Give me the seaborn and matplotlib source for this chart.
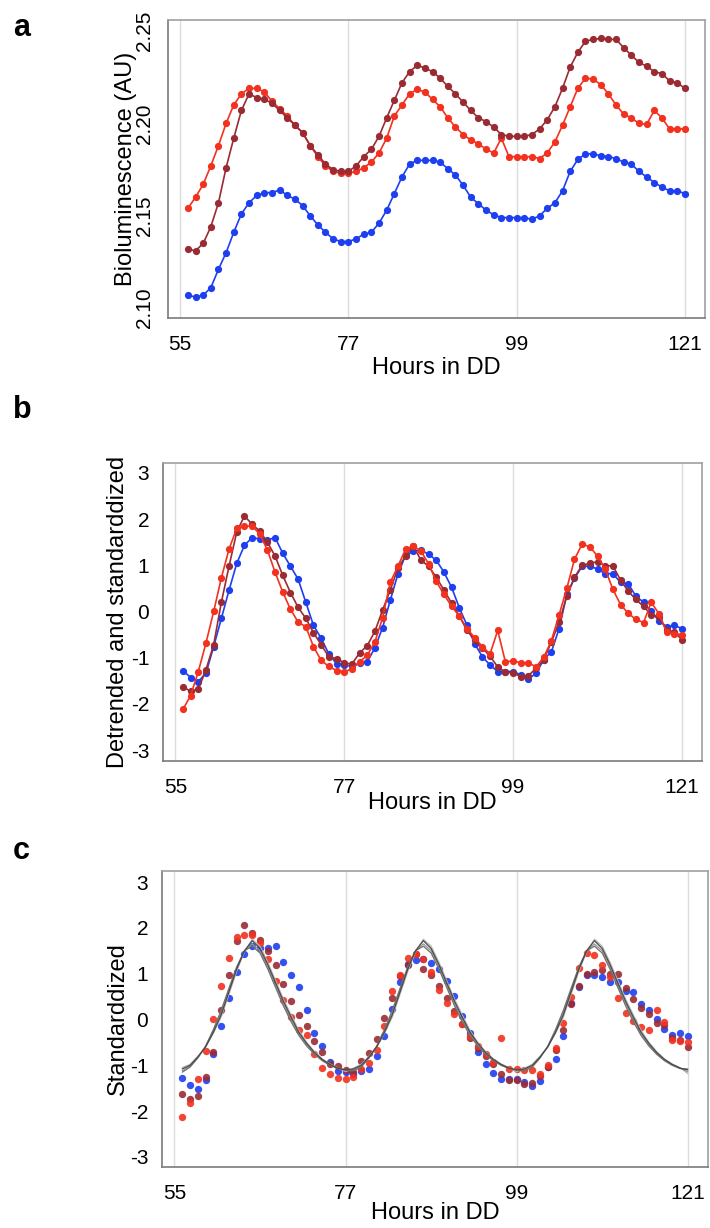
import matplotlib
matplotlib.use("Agg")
import matplotlib.pyplot as plt
import seaborn as sns

# Hours in constant darkness (one sample per hour)
hours = list(range(56, 122))

# Panel a: raw bioluminescence (AU)
red_a = [2.154, 2.160, 2.167, 2.177, 2.188, 2.200, 2.210, 2.216, 2.219, 2.219, 2.217,
         2.212, 2.208, 2.204, 2.199, 2.195, 2.188, 2.182, 2.177, 2.174, 2.173, 2.173,
         2.174, 2.176, 2.179, 2.184, 2.192, 2.204, 2.210, 2.216, 2.2185, 2.217, 2.213,
         2.209, 2.203, 2.198, 2.194, 2.191, 2.189, 2.186, 2.184, 2.192, 2.182, 2.182,
         2.182, 2.182, 2.181, 2.184, 2.190, 2.199, 2.209, 2.219, 2.2245, 2.224, 2.221,
         2.216, 2.210, 2.205, 2.203, 2.200, 2.1995, 2.207, 2.203, 2.197, 2.197, 2.197]
dark_a = [2.132, 2.131, 2.135, 2.144, 2.157, 2.176, 2.192, 2.207, 2.216, 2.214, 2.213,
          2.211, 2.207, 2.203, 2.199, 2.195, 2.188, 2.183, 2.178, 2.175, 2.174, 2.174,
          2.177, 2.182, 2.186, 2.193, 2.203, 2.2125, 2.222, 2.228, 2.2315, 2.230, 2.228,
          2.2245, 2.220, 2.216, 2.2115, 2.207, 2.203, 2.201, 2.198, 2.194, 2.193, 2.193,
          2.193, 2.194, 2.197, 2.202, 2.209, 2.219, 2.2305, 2.2385, 2.2445, 2.2455, 2.246,
          2.2455, 2.2455, 2.241, 2.237, 2.233, 2.231, 2.228, 2.227, 2.223, 2.222, 2.219]
blue_a = [2.107, 2.106, 2.107, 2.111, 2.121, 2.130, 2.141, 2.151, 2.157, 2.161, 2.1625,
          2.1625, 2.164, 2.161, 2.159, 2.1555, 2.150, 2.145, 2.141, 2.1375, 2.136, 2.136,
          2.1375, 2.140, 2.141, 2.146, 2.153, 2.162, 2.171, 2.178, 2.180, 2.180, 2.180,
          2.179, 2.1755, 2.172, 2.1665, 2.160, 2.1565, 2.153, 2.1505, 2.149, 2.149, 2.149,
          2.149, 2.148, 2.150, 2.154, 2.157, 2.1635, 2.174, 2.1805, 2.1835, 2.1835, 2.1825,
          2.182, 2.181, 2.179, 2.178, 2.174, 2.171, 2.168, 2.1655, 2.1635, 2.1635, 2.162]

# Panel b / c: detrended and standardized
red_b = [-2.12, -1.82, -1.30, -0.68, 0.00, 0.73, 1.35, 1.80, 1.85, 1.85, 1.68,
         1.33, 0.85, 0.42, 0.05, -0.23, -0.33, -0.76, -1.06, -1.19, -1.28, -1.30,
         -1.25, -1.09, -0.95, -0.66, -0.14, 0.63, 0.98, 1.35, 1.42, 1.31, 1.03,
         0.65, 0.37, 0.11, -0.10, -0.37, -0.57, -0.76, -0.92, -0.41, -1.09, -1.07,
         -1.11, -1.11, -1.20, -0.99, -0.63, -0.07, 0.50, 1.13, 1.46, 1.40, 1.20,
         0.92, 0.48, 0.15, -0.04, -0.17, -0.24, 0.20, -0.05, -0.44, -0.48, -0.50]
dark_b = [-1.63, -1.73, -1.68, -1.26, -0.72, 0.20, 0.98, 1.72, 2.07, 1.89, 1.74,
          1.50, 1.20, 0.78, 0.41, 0.09, -0.15, -0.46, -0.72, -0.98, -1.02, -1.11,
          -1.14, -0.90, -0.74, -0.43, 0.03, 0.46, 0.94, 1.20, 1.42, 1.11, 0.98,
          0.74, 0.46, 0.18, -0.10, -0.41, -0.62, -0.79, -0.97, -1.20, -1.31, -1.33,
          -1.41, -1.39, -1.23, -1.04, -0.66, -0.23, 0.33, 0.74, 1.00, 1.04, 1.08,
          0.99, 0.99, 0.68, 0.44, 0.26, 0.11, -0.07, -0.11, -0.40, -0.45, -0.61]
blue_b = [-1.28, -1.43, -1.52, -1.33, -0.76, -0.15, 0.46, 1.04, 1.43, 1.60, 1.57,
          1.55, 1.60, 1.26, 0.98, 0.70, 0.20, -0.30, -0.58, -0.92, -1.13, -1.15,
          -1.19, -1.12, -1.09, -0.79, -0.35, 0.24, 0.81, 1.22, 1.30, 1.33, 1.24,
          1.11, 0.85, 0.52, 0.08, -0.30, -0.70, -0.98, -1.16, -1.30, -1.30, -1.30,
          -1.37, -1.46, -1.34, -1.04, -0.87, -0.37, 0.37, 0.72, 0.98, 0.98, 0.92,
          0.82, 0.82, 0.63, 0.60, 0.33, 0.20, 0.00, -0.20, -0.33, -0.30, -0.37]

# Panel c: fitted curves (grey)
fit_1 = [-1.08, -1.00, -0.82, -0.60, -0.28, 0.10, 0.60, 1.10, 1.50, 1.72, 1.55,
         1.20, 0.80, 0.40, 0.05, -0.28, -0.52, -0.72, -0.87, -0.98, -1.06, -1.10,
         -1.08, -1.00, -0.82, -0.60, -0.28, 0.10, 0.60, 1.10, 1.50, 1.72, 1.55,
         1.20, 0.80, 0.40, 0.05, -0.28, -0.52, -0.72, -0.87, -0.98, -1.06, -1.10,
         -1.08, -1.00, -0.82, -0.60, -0.28, 0.10, 0.60, 1.10, 1.50, 1.72, 1.55,
         1.20, 0.80, 0.40, 0.05, -0.28, -0.52, -0.72, -0.87, -0.98, -1.06, -1.10]
fit_2 = [-1.15, -1.04, -0.84, -0.58, -0.22, 0.20, 0.68, 1.15, 1.50, 1.60, 1.45,
         1.10, 0.70, 0.30, -0.05, -0.35, -0.58, -0.76, -0.90, -1.00, -1.07, -1.10,
         -1.12, -1.04, -0.84, -0.58, -0.22, 0.20, 0.68, 1.15, 1.50, 1.60, 1.45,
         1.10, 0.70, 0.30, -0.05, -0.35, -0.58, -0.76, -0.90, -1.00, -1.07, -1.10,
         -1.12, -1.04, -0.84, -0.58, -0.22, 0.20, 0.68, 1.15, 1.50, 1.60, 1.45,
         1.10, 0.70, 0.30, -0.05, -0.35, -0.58, -0.76, -0.90, -1.00, -1.07, -1.08]
fit_3 = [-1.12, -1.02, -0.83, -0.59, -0.25, 0.15, 0.64, 1.12, 1.50, 1.65, 1.50,
         1.15, 0.75, 0.35, 0.00, -0.32, -0.55, -0.74, -0.88, -0.99, -1.06, -1.12,
         -1.10, -1.02, -0.83, -0.59, -0.25, 0.15, 0.64, 1.12, 1.50, 1.65, 1.50,
         1.15, 0.75, 0.35, 0.00, -0.32, -0.55, -0.74, -0.88, -0.99, -1.06, -1.12,
         -1.10, -1.02, -0.83, -0.59, -0.25, 0.15, 0.64, 1.12, 1.50, 1.65, 1.50,
         1.15, 0.75, 0.35, 0.00, -0.32, -0.55, -0.74, -0.88, -0.99, -1.06, -1.14]
fit_4 = [-1.05, -0.98, -0.80, -0.60, -0.30, 0.05, 0.55, 1.05, 1.48, 1.75, 1.60,
         1.25, 0.85, 0.45, 0.10, -0.24, -0.50, -0.70, -0.86, -0.97, -1.05, -1.14,
         -1.06, -0.98, -0.80, -0.60, -0.30, 0.05, 0.55, 1.05, 1.48, 1.75, 1.60,
         1.25, 0.85, 0.45, 0.10, -0.24, -0.50, -0.70, -0.86, -0.97, -1.05, -1.14,
         -1.06, -0.98, -0.80, -0.60, -0.30, 0.05, 0.55, 1.05, 1.48, 1.75, 1.60,
         1.25, 0.85, 0.45, 0.10, -0.24, -0.50, -0.70, -0.86, -0.97, -1.05, -1.18]

x_ticks = [55, 77, 99, 121]
RED = '#f2311f'
DARK = '#9a2b33'
BLUE = '#1d3ff0'
GREYS = ['#4a4a4a', '#707070', '#959595', '#b5b5b5']

sns.set_style("white")
plt.rcParams['font.family'] = ['Liberation Sans', 'DejaVu Sans']
plt.rcParams['text.color'] = 'black'
plt.rcParams['axes.labelcolor'] = 'black'


def style_axes(ax, ylim, yticks, ylabels, ylabel, rotate, ylab_x, xlab_y):
    ax.set_xlim(53.4, 123.6)
    ax.set_ylim(*ylim)
    ax.set_xticks(x_ticks)
    ax.set_xticklabels([str(t) for t in x_ticks], fontsize=15)
    ax.set_yticks(yticks)
    if rotate:
        ax.set_yticklabels(ylabels, fontsize=15, rotation=90, va='center')
    else:
        ax.set_yticklabels(ylabels, fontsize=15)
    ax.grid(axis='x', color='#dcdcdc', lw=1)
    ax.grid(axis='y', visible=False)
    ax.set_axisbelow(True)
    for side, sp in ax.spines.items():
        sp.set_visible(True)
        sp.set_color('#a0a0a0')
        sp.set_linewidth(1.2)
    ax.spines['left'].set_color('#7a7a7a')
    ax.spines['bottom'].set_color('#7a7a7a')
    ax.tick_params(axis='both', direction='out', length=7, width=1,
                   color='#7a7a7a', labelcolor='black')
    ax.tick_params(axis='x', pad=5)
    ax.tick_params(axis='y', pad=3)
    ax.set_xlabel('Hours in DD', fontsize=17)
    ax.set_ylabel(ylabel, fontsize=17)
    ax.xaxis.set_label_coords(0.5, xlab_y)
    ax.yaxis.set_label_coords(ylab_x, 0.5)
    ax.xaxis.label.set_va('center')
    ax.yaxis.label.set_va('center')


fig = plt.figure(figsize=(7.1, 12.28), dpi=100)

# ---- panel a
ax_a = fig.add_axes([0.2366, 0.741, 0.756, 0.2427])
line_kw = dict(marker='o', markersize=5.2, markeredgewidth=0, linewidth=1.2)
sns.lineplot(x=hours, y=red_a, color=RED, ax=ax_a, **line_kw)
sns.lineplot(x=hours, y=dark_a, color=DARK, ax=ax_a, **line_kw)
sns.lineplot(x=hours, y=blue_a, color=BLUE, ax=ax_a, **line_kw)
style_axes(ax_a, (2.0946, 2.256), [2.10, 2.15, 2.20, 2.25],
           ['2.10', '2.15', '2.20', '2.25'], 'Bioluminescence (AU)', True,
           -0.078, -0.168)

# ---- panel b
ax_b = fig.add_axes([0.2296, 0.3803, 0.759, 0.2427])
sns.lineplot(x=hours, y=blue_b, color=BLUE, ax=ax_b, **line_kw)
sns.lineplot(x=hours, y=dark_b, color=DARK, ax=ax_b, **line_kw)
sns.lineplot(x=hours, y=red_b, color=RED, ax=ax_b, **line_kw)
style_axes(ax_b, (-3.238, 3.217), [-3, -2, -1, 0, 1, 2, 3],
           ['-3', '-2', '-1', '0', '1', '2', '3'], 'Detrended and standarddized',
           False, -0.0835, -0.141)

# ---- panel c
ax_c = fig.add_axes([0.2282, 0.0497, 0.769, 0.241])
sc_kw = dict(s=28, linewidth=0, alpha=0.9)
sns.scatterplot(x=hours, y=blue_b, color=BLUE, ax=ax_c, **sc_kw)
sns.scatterplot(x=hours, y=dark_b, color=DARK, ax=ax_c, **sc_kw)
sns.scatterplot(x=hours, y=red_b, color=RED, ax=ax_c, **sc_kw)
for fit, col in zip([fit_4, fit_3, fit_2, fit_1], GREYS[::-1]):
    sns.lineplot(x=hours, y=fit, color=col, linewidth=0.9, ax=ax_c)
style_axes(ax_c, (-3.218, 3.24), [-3, -2, -1, 0, 1, 2, 3],
           ['-3', '-2', '-1', '0', '1', '2', '3'], 'Standarddized',
           False, -0.0806, -0.155)

# panel letters
for letter, ypix in [('a', 28), ('b', 410), ('c', 851)]:
    fig.text(13 / 710, 1 - ypix / 1228, letter, fontsize=22, fontweight='bold',
             va='center', ha='left', color='black')

fig.savefig('out.png', dpi=100)
